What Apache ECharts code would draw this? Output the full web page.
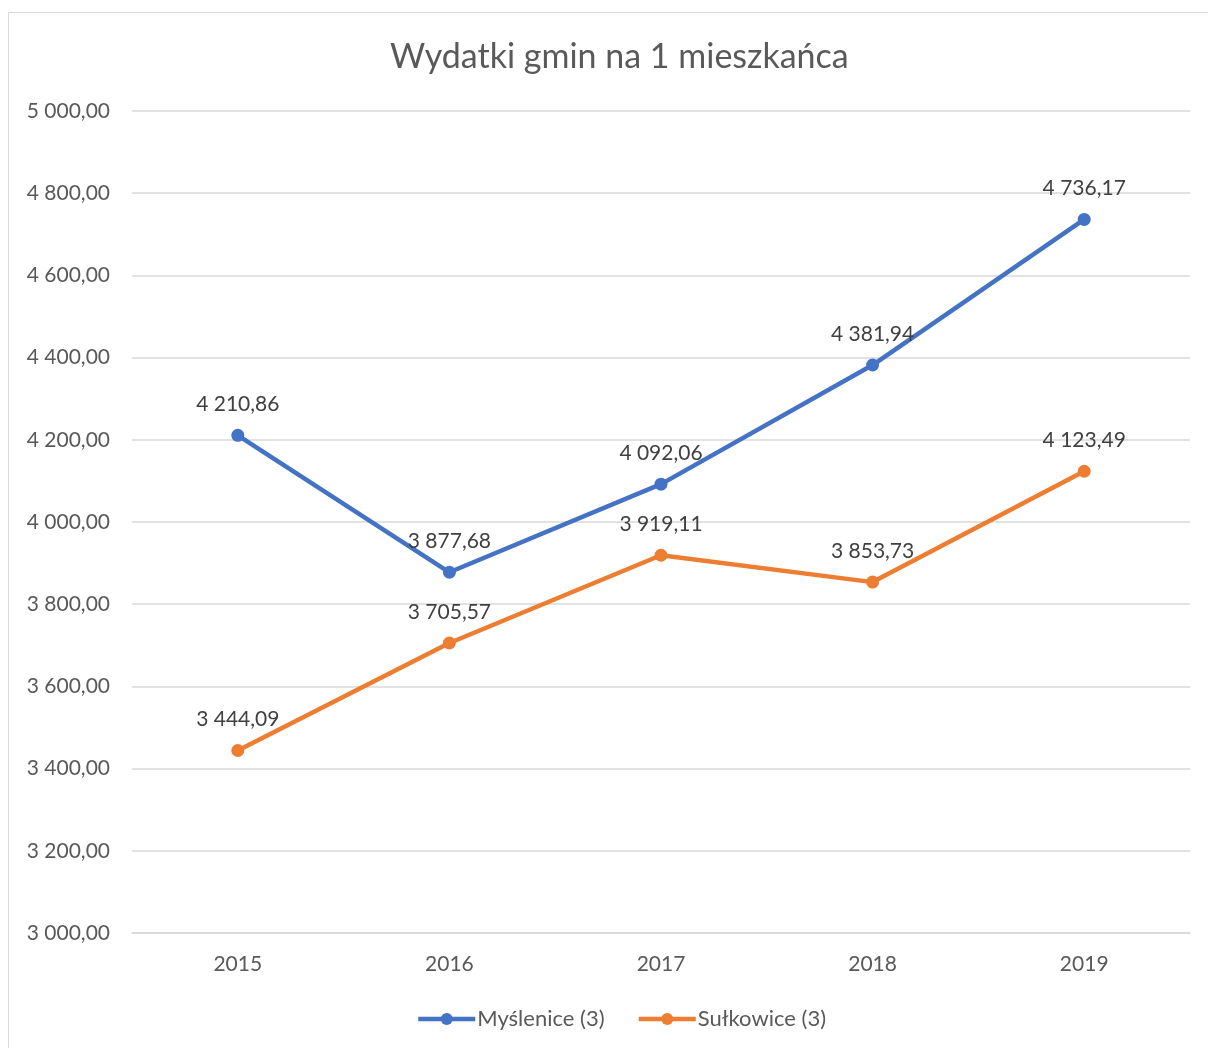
<!DOCTYPE html>
<html>
<head>
<meta charset="utf-8">
<script src="https://cdn.jsdelivr.net/npm/echarts@6/dist/echarts.min.js"></script>
<style>
  html, body { margin: 0; padding: 0; background: #fff; }
  #chart { width: 1208px; height: 1048px; }
</style>
</head>
<body>
<div id="chart"></div>
<script>
  // dane z wykresu
  const years = ['2015', '2016', '2017', '2018', '2019'];
  const myslenice = [4210.86, 3877.68, 4092.06, 4381.94, 4736.17];
  const sulkowice = [3444.09, 3705.57, 3919.11, 3853.73, 4123.49];
  const seriesNames = ['Myślenice (3)', 'Sułkowice (3)'];

  // 4736.17 -> "4 736,17"
  function fmt(v) {
    const parts = v.toFixed(2).split('.');
    return parts[0].replace(/\B(?=(\d{3})+(?!\d))/g, ' ') + ',' + parts[1];
  }

  const font = 'Lato, Open Sans, sans-serif';
  const chart = echarts.init(document.getElementById('chart'));

  function lineSeries(name, data, color) {
    return {
      name: name,
      type: 'line',
      data: data,
      symbol: 'circle',
      symbolSize: 13,
      lineStyle: { color: color, width: 4.5 },
      itemStyle: { color: color },
      label: {
        show: true,
        position: 'top',
        distance: 14,
        color: '#404040',
        fontSize: 21,
        fontFamily: font,
        formatter: p => fmt(p.value)
      }
    };
  }

  chart.setOption({
    animation: false,
    backgroundColor: '#fff',
    graphic: [{
      type: 'rect',
      shape: { x: 8.5, y: 12.5, width: 1210, height: 1050 },
      style: { fill: 'none', stroke: '#d9d9d9', lineWidth: 1 }
    }],
    title: {
      text: 'Wydatki gmin na 1 mieszkańca',
      left: 385,
      top: 35,
      textStyle: { color: '#595959', fontSize: 34, fontWeight: 'normal', fontFamily: font }
    },
    legend: {
      data: seriesNames,
      bottom: 13,
      left: 411,
      itemWidth: 57,
      itemHeight: 15,
      itemGap: 32,
      lineStyle: { width: 4.5 },
      textStyle: { color: '#595959', fontSize: 22, fontFamily: font, padding: [0, 0, 0, -3] }
    },
    grid: { left: 132, right: 18, top: 111, bottom: 115 },
    xAxis: {
      type: 'category',
      data: years,
      boundaryGap: true,
      axisLine: { lineStyle: { color: '#d9d9d9', width: 1.5 } },
      axisTick: { show: false },
      axisLabel: { color: '#595959', fontSize: 21, fontFamily: font, margin: 21 }
    },
    yAxis: {
      type: 'value',
      min: 3000,
      max: 5000,
      interval: 200,
      axisLine: { show: false },
      axisTick: { show: false },
      splitLine: { lineStyle: { color: '#d9d9d9', width: 1.5 } },
      axisLabel: { color: '#595959', fontSize: 21, fontFamily: font, margin: 22, formatter: v => fmt(v) }
    },
    series: [
      lineSeries(seriesNames[0], myslenice, '#4472C4'),
      lineSeries(seriesNames[1], sulkowice, '#ED7D31')
    ]
  });
</script>
</body>
</html>
